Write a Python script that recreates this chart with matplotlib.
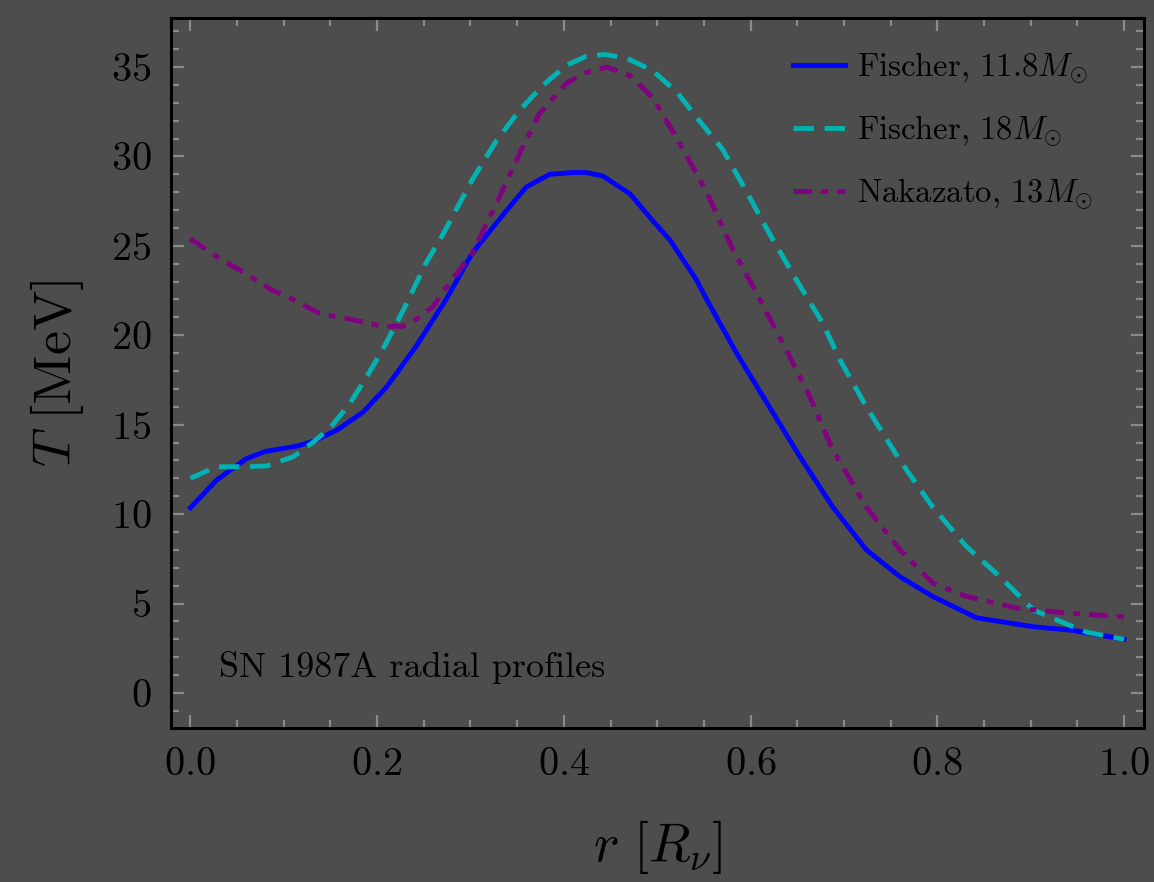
import matplotlib
matplotlib.use('Agg')
import matplotlib.pyplot as plt
from matplotlib.ticker import MultipleLocator

plt.rcParams['font.family'] = 'serif'
plt.rcParams['font.serif'] = ['cmr10', 'DejaVu Serif']
plt.rcParams['mathtext.fontset'] = 'cm'
plt.rcParams['axes.formatter.use_mathtext'] = True

# Fischer, 11.8 Msun
r_f11 = [0.0, 0.028, 0.06, 0.08, 0.114, 0.133, 0.157, 0.185, 0.21, 0.242, 0.275,
         0.302, 0.339, 0.36, 0.385, 0.41, 0.424, 0.442, 0.471, 0.492, 0.514, 0.542,
         0.553, 0.585, 0.613, 0.653, 0.688, 0.724, 0.76, 0.795, 0.842, 0.903, 0.945, 1.0]
T_f11 = [10.35, 11.9, 13.1, 13.5, 13.8, 14.1, 14.7, 15.7, 17.1, 19.4, 22.1,
         24.6, 27.0, 28.3, 29.0, 29.1, 29.1, 28.9, 27.9, 26.6, 25.3, 23.1,
         22.0, 19.0, 16.6, 13.2, 10.4, 8.0, 6.5, 5.4, 4.2, 3.7, 3.5, 3.0]

# Fischer, 18 Msun
r_f18 = [0.0, 0.028, 0.063, 0.082, 0.11, 0.131, 0.151, 0.171, 0.189, 0.206, 0.228,
         0.253, 0.269, 0.302, 0.328, 0.353, 0.378, 0.403, 0.424, 0.444, 0.467, 0.495,
         0.521, 0.542, 0.57, 0.596, 0.62, 0.649, 0.677, 0.696, 0.724, 0.76, 0.795,
         0.831, 0.867, 0.903, 0.928, 0.96, 1.0]
T_f18 = [12.0, 12.65, 12.65, 12.7, 13.2, 14.0, 14.9, 16.2, 17.7, 19.2, 21.4,
         24.1, 25.5, 28.7, 30.9, 32.6, 34.0, 35.1, 35.6, 35.7, 35.5, 34.8,
         33.6, 32.2, 30.4, 28.0, 25.7, 23.1, 20.7, 18.6, 16.0, 13.0, 10.4,
         8.2, 6.5, 4.64, 4.08, 3.4, 3.0]

# Nakazato, 13 Msun
r_n13 = [0.0, 0.031, 0.064, 0.085, 0.11, 0.139, 0.171, 0.206, 0.228, 0.242, 0.26,
         0.27, 0.302, 0.328, 0.353, 0.374, 0.403, 0.424, 0.446, 0.471, 0.495, 0.52,
         0.553, 0.581, 0.61, 0.638, 0.663, 0.688, 0.724, 0.76, 0.795, 0.831, 0.885,
         0.938, 1.0]
T_n13 = [25.4, 24.3, 23.3, 22.6, 22.0, 21.2, 20.9, 20.5, 20.5, 20.9, 21.6,
         22.4, 24.6, 27.4, 30.2, 32.4, 34.1, 34.7, 35.0, 34.5, 33.3, 31.1,
         28.0, 24.8, 22.0, 19.2, 16.6, 13.6, 10.4, 8.0, 6.15, 5.4, 4.75,
         4.47, 4.26]

labels = [r'Fischer$,\,11.8M_{\odot}$', r'Fischer$,\,18M_{\odot}$', r'Nakazato$,\,13M_{\odot}$']

bg = '#4d4d4d'
fig = plt.figure(figsize=(11.54, 8.82), dpi=100, facecolor=bg)
ax = fig.add_axes([0.148, 0.1746, 0.843, 0.805], facecolor=bg)

ax.plot(r_f11, T_f11, color='#0000ff', lw=3.5, label=labels[0])
ax.plot(r_f18, T_f18, color='#00b2b2', lw=3.5, dashes=(4.2, 2.2), label=labels[1])
ax.plot(r_n13, T_n13, color='#800080', lw=3.5, dashes=(3.8, 1.9, 1.4, 1.9), label=labels[2])

ax.set_xlim(-0.021, 1.021)
ax.set_ylim(-1.96, 37.74)
ax.xaxis.set_major_locator(MultipleLocator(0.2))
ax.xaxis.set_minor_locator(MultipleLocator(0.05))
ax.yaxis.set_major_locator(MultipleLocator(5))
ax.yaxis.set_minor_locator(MultipleLocator(1))

ax.tick_params(which='both', direction='in', top=True, right=True, color='#8a8a8a',
               width=1.6, labelsize=29, labelcolor='black')
ax.tick_params(which='major', length=9.5, pad=14)
ax.tick_params(which='minor', length=6)
for s in ax.spines.values():
    s.set_color('black')
    s.set_linewidth(2.2)

ax.set_xlabel(r'$r\ [R_{\nu}]$', fontsize=39, labelpad=25)
ax.set_ylabel(r'$T\ [\mathrm{MeV}]$', fontsize=39, labelpad=18)

ax.text(0.031, 1.4, 'SN 1987A radial profiles', fontsize=26, va='center', ha='left')

ax.legend(loc='upper right', frameon=False, fontsize=23.5, handlelength=1.6,
          handletextpad=0.35, labelspacing=0.85, borderaxespad=0.5,
          bbox_to_anchor=(0.978, 0.995))

fig.savefig('out.png', dpi=100, facecolor=bg)
